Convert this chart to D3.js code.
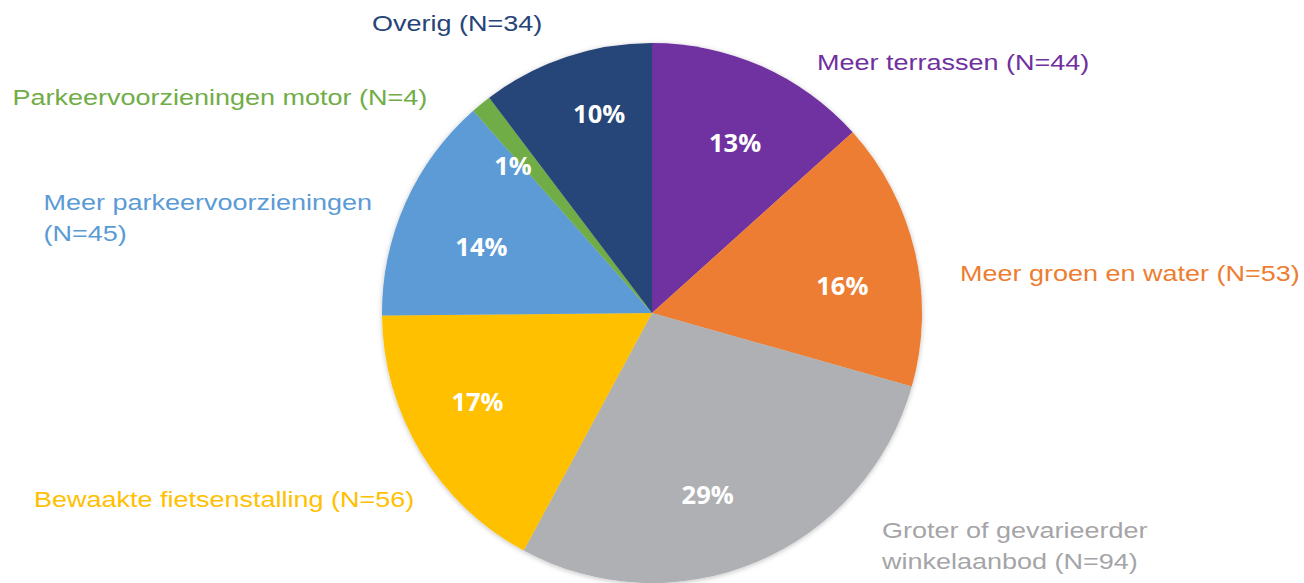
<!DOCTYPE html>
<html>
<head>
<meta charset="utf-8">
<script src="https://cdn.jsdelivr.net/npm/d3@7"></script>
<style>
  html, body { margin: 0; padding: 0; background: #fff; }
  svg { display: block; }
  .cat { font-family: "Liberation Sans", Arial, sans-serif; font-size: 22.5px; }
  .pct { font-family: "Open Sans", "Lato", sans-serif; font-size: 25.5px; font-weight: 700; fill: #fff; }
</style>
</head>
<body>
<svg id="chart" width="1304" height="583"></svg>
<script>
// Suggesties voor het centrum: aantal respondenten per categorie
const categories = [
  "Meer terrassen",
  "Meer groen en water",
  "Groter of gevarieerder winkelaanbod",
  "Bewaakte fietsenstalling",
  "Meer parkeervoorzieningen",
  "Parkeervoorzieningen motor",
  "Overig"
];
const counts = [44, 53, 94, 56, 45, 4, 34];
const colors = ["#7030A0", "#ED7D31", "#AFB0B4", "#FFC000", "#5B9BD5", "#70AD47", "#264478"];
const labelColors = ["#7030A0", "#ED7D31", "#A5A5A8", "#FFC000", "#5B9BD5", "#70AD47", "#264478"];

// Category label lines and their anchor points (left edge, first baseline)
const labelLines = [
  ["Meer terrassen (N=44)"],
  ["Meer groen en water (N=53)"],
  ["Groter of gevarieerder", "winkelaanbod (N=94)"],
  ["Bewaakte fietsenstalling (N=56)"],
  ["Meer parkeervoorzieningen", "(N=45)"],
  ["Parkeervoorzieningen motor (N=4)"],
  ["Overig (N=34)"]
];
const labelPos = [
  [817, 69.5], [960, 281], [882, 537.5], [34, 506.5], [43.5, 209.5], [12.5, 104.5], [372, 31]
];
// Fine offsets of the percentage labels from the slice centroids
const pctNudge = [[4, 7], [1, 17], [-20, 3], [-8, -12], [7, 13], [-16, 3], [9, -15]];

const svg = d3.select("#chart");
const cx = 652, cy = 313, R = 270;
const stretchX = 1.2, lineGap = 31.5;

const defs = svg.append("defs");
const f = defs.append("filter").attr("id", "shadow")
  .attr("x", "-10%").attr("y", "-10%").attr("width", "120%").attr("height", "120%");
f.append("feDropShadow").attr("dx", 0).attr("dy", 1).attr("stdDeviation", 2.5)
  .attr("flood-color", "#000").attr("flood-opacity", 0.25);

// Whole percentages that add up to 100 (largest remainder)
const total = d3.sum(counts);
const raw = counts.map(v => v / total * 100);
const pcts = raw.map(Math.floor);
let left = 100 - d3.sum(pcts);
d3.range(raw.length)
  .sort((a, b) => (raw[b] - pcts[b]) - (raw[a] - pcts[a]))
  .slice(0, left).forEach(i => pcts[i] += 1);

const data = counts.map((v, i) => ({ name: categories[i], value: v, i }));

const pie = d3.pie().value(d => d.value).sort(null);
const arc = d3.arc().innerRadius(0).outerRadius(R);
const labelArc = d3.arc().innerRadius(R * 0.72).outerRadius(R * 0.72);

const g = svg.append("g").attr("transform", `translate(${cx},${cy})`);
const arcs = pie(data);

g.append("g").attr("filter", "url(#shadow)")
  .selectAll("path").data(arcs).join("path")
  .attr("d", arc)
  .attr("fill", d => colors[d.data.i]);

g.selectAll("text.pct").data(arcs).join("text")
  .attr("class", "pct")
  .attr("transform", d => {
    const [x, y] = labelArc.centroid(d);
    const [nx, ny] = pctNudge[d.data.i];
    return `translate(${x + nx},${y + ny})`;
  })
  .attr("text-anchor", "middle")
  .attr("dy", "0.36em")
  .text(d => pcts[d.data.i] + "%");

const lab = svg.append("g");
labelLines.forEach((lines, i) => {
  const t = lab.append("g")
    .attr("transform", `translate(${labelPos[i][0]},${labelPos[i][1]}) scale(${stretchX},1)`)
    .append("text").attr("class", "cat")
    .attr("fill", labelColors[i]);
  lines.forEach((ln, k) => {
    t.append("tspan").attr("x", 0).attr("y", k * lineGap).text(ln);
  });
});
</script>
</body>
</html>
